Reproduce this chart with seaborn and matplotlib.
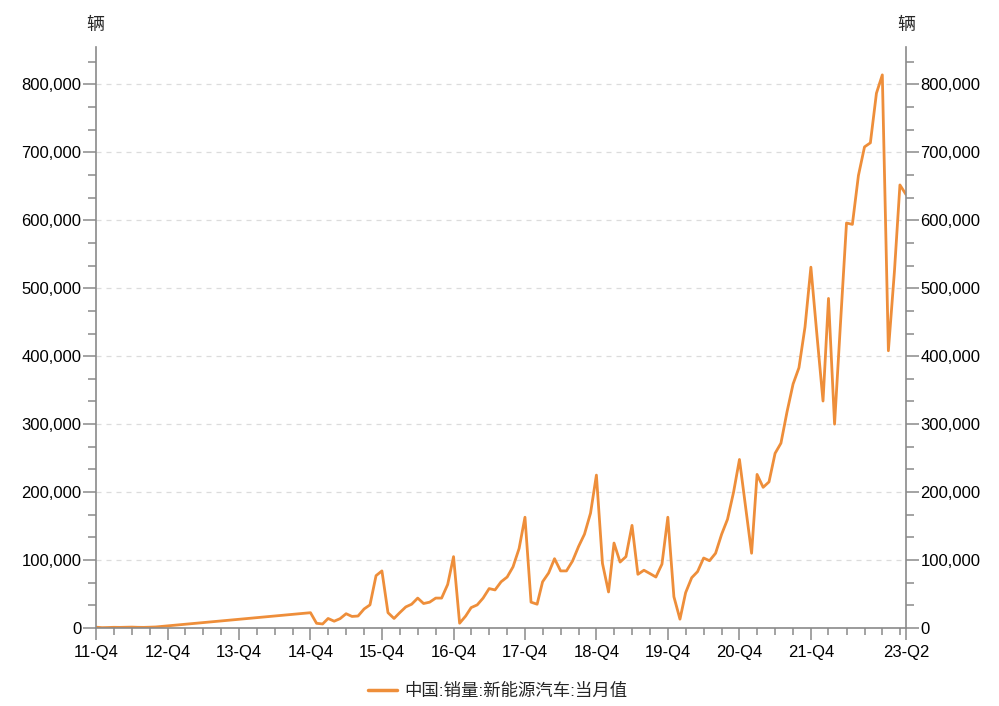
import pandas as pd
import numpy as np
import matplotlib
matplotlib.use("Agg")
import matplotlib.pyplot as plt
import matplotlib.dates as mdates
from matplotlib.ticker import FixedLocator, FixedFormatter, MultipleLocator, FuncFormatter
import seaborn as sns

# monthly NEV sales, Dec 2011 - Oct 2012 (then a gap until Dec 2014)
early_start = "2011-12"
early_sales = [1200, 500, 700, 1000, 900, 1100, 1300, 1000, 900, 1200, 1500]

# monthly NEV sales, Dec 2014 - Apr 2023
main_start = "2014-12"
main_sales = [
    22500,
    6900, 5900, 14000, 10000, 13700, 21000, 17000, 17600, 28000, 34000, 77000, 84000,
    22500, 14000, 22500, 31000, 35000, 44000, 36000, 38000, 44000, 44000, 64000, 105000,
    7000, 17600, 30000, 34000, 44000, 58000, 56000, 68000, 75000, 90000, 117000, 163000,
    38000, 35000, 68000, 81000, 102000, 84000, 84000, 98500, 120000, 138000, 169000, 225000,
    95000, 53000, 125000, 97000, 105000, 151000, 79000, 85000, 80000, 75000, 94000, 163000,
    46000, 13000, 52000, 74000, 83000, 103000, 99000, 110000, 138000, 160000, 200000, 248000,
    179000, 110000, 226000, 207000, 215000, 257000, 272000, 318000, 359000, 383000, 443000, 531000,
    431000, 334000, 485000, 300000, 447000, 596000, 594000, 666000, 708000, 714000, 787000, 814000,
    408000, 525000, 652000, 638000,
]

series_name = "中国:销量:新能源汽车:当月值"
unit_label = "辆"
xtick_months = ["2011-12", "2012-12", "2013-12", "2014-12", "2015-12", "2016-12",
                "2017-12", "2018-12", "2019-12", "2020-12", "2021-12", "2023-04"]
xtick_labels = ["11-Q4", "12-Q4", "13-Q4", "14-Q4", "15-Q4", "16-Q4",
                "17-Q4", "18-Q4", "19-Q4", "20-Q4", "21-Q4", "23-Q2"]

def month_dates(start, n):
    return pd.period_range(start, periods=n, freq="M").to_timestamp()

df = pd.DataFrame({
    "date": list(month_dates(early_start, len(early_sales))) + list(month_dates(main_start, len(main_sales))),
    "sales": early_sales + main_sales,
})
df["series"] = series_name

sns.set_theme(style="white")
plt.rcParams["font.family"] = ["Liberation Sans", "Noto Sans CJK SC", "DejaVu Sans"]

line_color = "#EE8E3A"
axis_color = "#8a8a8a"

fig = plt.figure(figsize=(9.99, 7.06), dpi=100)
ax = fig.add_axes([0.0961, 0.1105, 0.8108, 0.8229])

sns.lineplot(data=df, x="date", y="sales", hue="series", palette=[line_color],
             linewidth=2.0, ax=ax, legend=False, estimator=None)

x0 = pd.Timestamp("2011-12-01")
x1 = pd.Timestamp("2023-04-01")
ax.set_xlim(x0, x1)
ax.set_ylim(0, 855000)

# x ticks: labelled at year ends, minor at each quarter end
major_x = [mdates.date2num(pd.Timestamp(m + "-01")) for m in xtick_months]
minor_x = [mdates.date2num(d) for d in pd.period_range("2012-03", "2023-03", freq="Q-DEC").asfreq("M", "end").to_timestamp()]
ax.xaxis.set_major_locator(FixedLocator(major_x))
ax.xaxis.set_major_formatter(FixedFormatter(xtick_labels))
ax.xaxis.set_minor_locator(FixedLocator(minor_x))

# y ticks
ax.yaxis.set_major_locator(MultipleLocator(100000))
ax.yaxis.set_minor_locator(MultipleLocator(100000 / 3))
fmt = FuncFormatter(lambda v, p: f"{int(v):,}")
ax.yaxis.set_major_formatter(fmt)

ax.grid(axis="y", which="major", color="#dcdcdc", linestyle=(0, (4, 4)), linewidth=0.9)
ax.grid(axis="x", visible=False)
ax.set_xlabel("")
ax.set_ylabel("")

for s in ["top", "right"]:
    ax.spines[s].set_visible(False)
for s in ["left", "bottom"]:
    ax.spines[s].set_color(axis_color)
    ax.spines[s].set_linewidth(1.2)

ax.tick_params(axis="x", which="major", length=8.5, width=1.1, color=axis_color,
               labelsize=12, labelcolor="black", pad=4, direction="out", bottom=True)
ax.tick_params(axis="x", which="minor", length=5, width=1.1, color=axis_color, bottom=True)
ax.tick_params(axis="y", which="major", length=9.5, width=1.1, color=axis_color,
               labelsize=12, labelcolor="black", pad=1, direction="out", left=True)
ax.tick_params(axis="y", which="minor", length=5.8, width=1.1, color=axis_color, left=True)

# right axis mirroring the left one
ax2 = ax.twinx()
ax2.set_ylim(ax.get_ylim())
ax2.yaxis.set_major_locator(MultipleLocator(100000))
ax2.yaxis.set_minor_locator(MultipleLocator(100000 / 3))
ax2.yaxis.set_major_formatter(fmt)
for s in ["top", "left", "bottom"]:
    ax2.spines[s].set_visible(False)
ax2.spines["right"].set_color(axis_color)
ax2.spines["right"].set_linewidth(1.2)
ax2.tick_params(axis="y", which="major", length=9.5, width=1.1, color=axis_color,
                labelsize=12, labelcolor="black", pad=1, direction="out", right=True)
ax2.tick_params(axis="y", which="minor", length=5.8, width=1.1, color=axis_color, right=True)
ax2.grid(False)

# unit labels
fig.text(0.0951, 0.964, unit_label, ha="center", va="center", fontsize=13)
fig.text(0.9069, 0.964, unit_label, ha="center", va="center", fontsize=13)

# legend
handle = plt.Line2D([], [], color=line_color, linewidth=2.5)
fig.legend([handle], [series_name], loc="center", bbox_to_anchor=(0.498, 0.021),
           frameon=False, fontsize=12.5, handlelength=1.7, handletextpad=0.4)

fig.savefig("out.png", dpi=100)
